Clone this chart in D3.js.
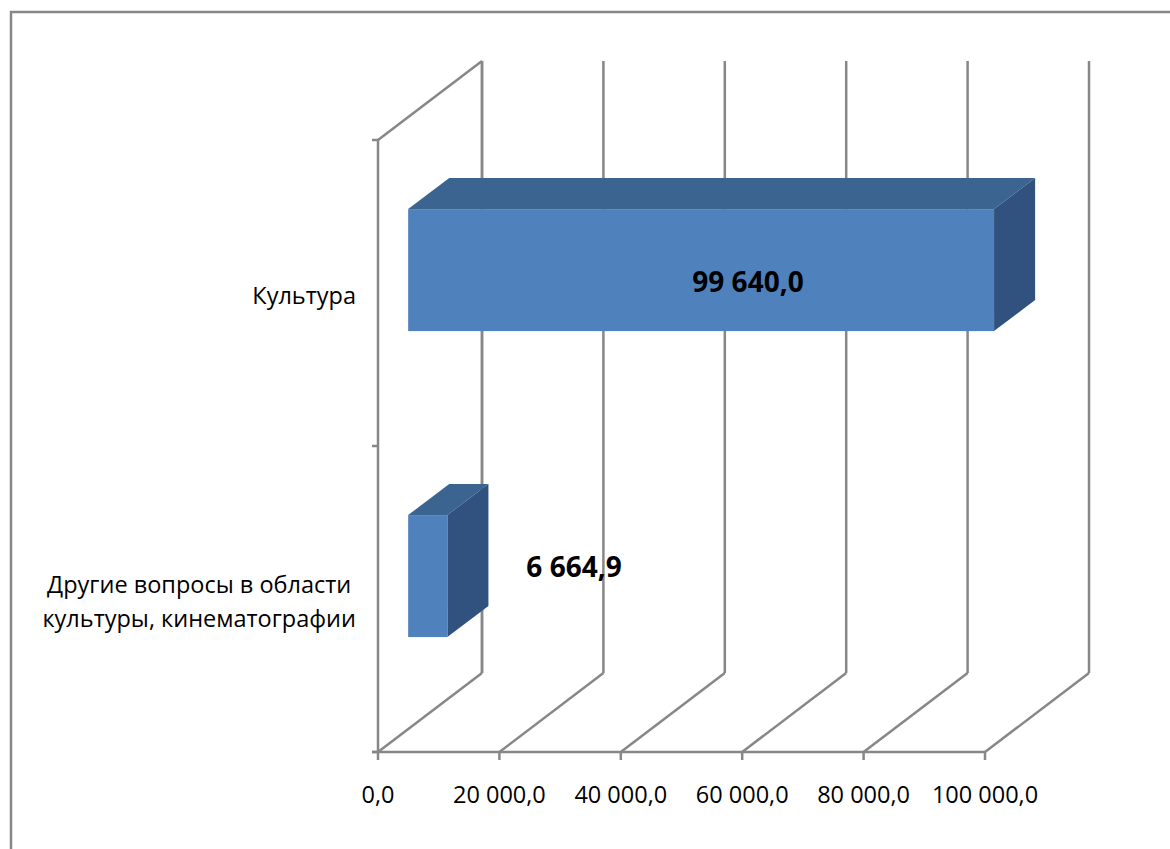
<!DOCTYPE html>
<html><head><meta charset="utf-8">
<script src="https://cdn.jsdelivr.net/npm/d3@7"></script>
<style>body{margin:0;background:#fff}svg{display:block}</style>
</head><body>
<svg id="c" width="1170" height="849"></svg>
<script>
const categories = ["Другие вопросы в области\nкультуры, кинематографии", "Культура"];
const values = [6664.9, 99640.0];
const valueLabels = ["6 664,9", "99 640,0"];
const tickValues = [0, 20000, 40000, 60000, 80000, 100000];
const tickLabels = ["0,0", "20 000,0", "40 000,0", "60 000,0", "80 000,0", "100 000,0"];

const svg = d3.select("#c");
const font = "'Open Sans', 'Noto Sans', sans-serif";
const grid = "#878787";
const DX = 104, DY = -79;           // depth vector of the wall
const x = d3.scaleLinear().domain([0, 100000]).range([378, 985]);
const xBar = d3.scaleLinear().domain([0, 100000]).range([0, 588]);
const y = d3.scaleBand().domain(categories).range([752, 140]);

// outer border
svg.append("path").attr("d", "M11,849 V12 H1170").attr("fill", "none")
  .attr("stroke", grid).attr("stroke-width", 2.5);

const g = svg.append("g");
const line = (x1, y1, x2, y2, w) => g.append("line").attr("x1", x1).attr("y1", y1)
  .attr("x2", x2).attr("y2", y2).attr("stroke", grid).attr("stroke-width", w || 2.5);

const yTop = 140, yBot = 752;
// left wall
line(x(0), yTop, x(0), yBot);
line(x(0), yTop, x(0) + DX, yTop + DY);
line(x(0) + DX, yTop + DY, x(0) + DX, yBot + DY);
// category ticks
[yTop, y.bandwidth() + y(categories[1]), yBot].forEach(v => line(x(0) - 6, v, x(0), v));
// floor front line
line(x(0) - 6, yBot, x(100000), yBot);
// gridlines, floor diagonals, ticks
tickValues.forEach(t => {
  line(x(t), yBot, x(t), yBot + 8);
  line(x(t), yBot, x(t) + DX, yBot + DY);
  line(x(t) + DX, yTop + DY, x(t) + DX, yBot + DY);
});

// tick labels
svg.append("g").selectAll("text").data(tickValues).join("text")
  .attr("x", d => x(d)).attr("y", 803).attr("text-anchor", "middle")
  .attr("font-family", font).attr("font-size", 23.5).attr("fill", "#000")
  .text((d, i) => tickLabels[i]);

// bars
const z0 = 0.29, z1 = 0.685;
const thick = 122;
const cFront = "#4F81BD", cTop = "#3C6490", cSide = "#31527E";
const bars = svg.append("g");
categories.forEach((c, i) => {
  const cy = y(c) + y.bandwidth() / 2;
  const fx = x(0) + z0 * DX, fy = cy + z0 * DY - thick / 2;
  const w = xBar(values[i]);
  const ddx = (z1 - z0) * DX, ddy = (z1 - z0) * DY;
  bars.append("path").attr("fill", cTop)
    .attr("d", `M${fx},${fy} L${fx + ddx},${fy + ddy} L${fx + w + ddx},${fy + ddy} L${fx + w},${fy} Z`);
  bars.append("path").attr("fill", cSide)
    .attr("d", `M${fx + w},${fy} L${fx + w + ddx},${fy + ddy} L${fx + w + ddx},${fy + ddy + thick} L${fx + w},${fy + thick} Z`);
  bars.append("rect").attr("x", fx).attr("y", fy).attr("width", w).attr("height", thick).attr("fill", cFront);
});

// data labels
const lblPos = [[574, 577], [748, 292]];
svg.append("g").selectAll("text").data(valueLabels).join("text")
  .attr("x", (d, i) => lblPos[i][0]).attr("y", (d, i) => lblPos[i][1])
  .attr("text-anchor", "middle").attr("font-family", font).attr("font-weight", "bold")
  .attr("font-size", 28).attr("fill", "#000").text(d => d);

// category labels
const cl = svg.append("g");
categories.forEach(c => {
  const lines = c.split("\n");
  const cy = y(c) + y.bandwidth() / 2;
  const lh = 34;
  const t = cl.append("text").attr("font-family", font).attr("font-size", 23.5).attr("fill", "#000");
  const tsp = lines.map((l, k) => t.append("tspan")
    .attr("y", cy + (k - (lines.length - 1) / 2) * lh + 11).text(l));
  const widths = tsp.map(s => s.node().getComputedTextLength());
  const maxW = Math.max(...widths);
  const right = 356;
  tsp.forEach((s, k) => s.attr("x", right - maxW / 2).attr("text-anchor", "middle"));
});
</script>
</body></html>
